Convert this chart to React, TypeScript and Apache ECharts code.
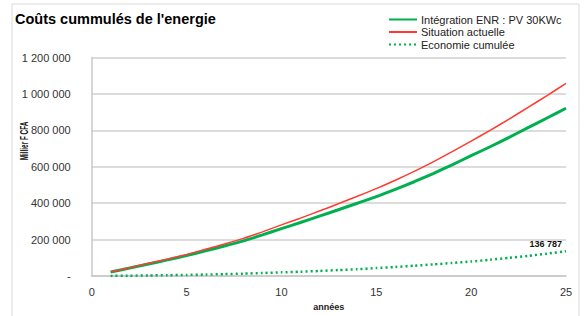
import React, { useEffect, useRef } from "react";
import * as echarts from "echarts";

const years = [1, 2, 3, 4, 5, 6, 7, 8, 9, 10, 11, 12, 13, 14, 15, 16, 17, 18, 19, 20, 21, 22, 23, 24, 25];
const integrationENR = [
  22000, 44000, 66500, 89000, 112500, 138500, 165000, 193500, 226000, 260500,
  294000, 329000, 364000, 400000, 436000, 476000, 518000, 563000, 611000, 661000,
  710000, 762000, 815000, 868000, 921213,
];
const situationActuelle = [
  23000, 46000, 70000, 94000, 119000, 147000, 176000, 207000, 243000, 281000,
  318000, 357000, 397000, 438000, 480000, 526000, 575000, 627000, 683000, 741000,
  800000, 862000, 926000, 991000, 1058000,
];
const economieCumulee = [
  1000, 2000, 3500, 5000, 6500, 8500, 11000, 13500, 17000, 20500,
  24000, 28000, 33000, 38000, 44000, 50000, 57000, 64000, 72000, 80000,
  90000, 100000, 111000, 123000, 136787,
];
const yTickLabels = ["-", "200 000", "400 000", "600 000", "800 000", "1 000 000", "1 200 000"];
const seriesNames = ["Intégration ENR : PV 30KWc", "Situation actuelle", "Economie cumulée"];

const fmt = (v: number) => String(Math.round(v)).replace(/\B(?=(\d{3})+(?!\d))/g, " ");
const FONT = "'Liberation Sans', Arial, sans-serif";

export default function App() {
  const ref = useRef<HTMLDivElement>(null);
  useEffect(() => {
    if (!ref.current) return;
    const chart = echarts.init(ref.current, undefined, { renderer: "svg" });
    const last = years.length - 1;
    chart.setOption({
      animation: false,
      textStyle: { fontFamily: FONT },
      title: {
        text: "Coûts cummulés de l'energie",
        left: 15,
        top: 11,
        padding: 0,
        textStyle: { fontSize: 14.5, fontWeight: "bold", color: "#000", fontFamily: FONT },
      },
      legend: {
        orient: "vertical",
        left: 388,
        top: 14,
        padding: 0,
        itemWidth: 28,
        itemHeight: 12,
        itemGap: 1.5,
        itemStyle: { opacity: 0 },
        textStyle: { fontSize: 11, color: "#222", fontFamily: FONT, padding: [0, 0, 0, -1] },
        data: seriesNames,
      },
      grid: { left: 91.7, right: 18, top: 57.5, bottom: 37.5 },
      xAxis: {
        type: "value",
        min: 0,
        max: 25,
        interval: 5,
        name: "années",
        nameLocation: "middle",
        nameGap: 24,
        nameTextStyle: { fontSize: 9, fontWeight: "bold", color: "#222" },
        axisLine: { show: true, lineStyle: { color: "#c8c8c8", width: 1.5 } },
        axisTick: { show: false },
        splitLine: { show: false },
        axisLabel: { fontSize: 11, color: "#333", margin: 10 },
      },
      yAxis: {
        type: "value",
        min: 0,
        max: 1200000,
        interval: 200000,
        axisLine: { show: true, lineStyle: { color: "#c8c8c8", width: 1.5 } },
        axisTick: { show: false },
        splitLine: { show: true, lineStyle: { color: "#d0d0d0", width: 1.5 } },
        axisLabel: {
          fontSize: 11,
          color: "#333",
          margin: 21,
          formatter: (v: number) => yTickLabels[Math.round(v / 200000)],
        },
      },
      graphic: [
        {
          type: "rect",
          shape: { x: 12, y: 4, width: 567, height: 400 },
          style: { fill: "none", stroke: "#d9d9d9", lineWidth: 1 },
          silent: true,
        },
        {
          type: "text",
          x: 24,
          y: 141,
          rotation: Math.PI / 2,
          scaleX: 0.64,
          style: {
            text: "Millier F CFA",
            font: `bold 10px ${FONT}`,
            fill: "#111",
            textAlign: "center",
            textVerticalAlign: "middle",
          },
        },
      ],
      series: [
        {
          name: seriesNames[0],
          type: "line",
          symbol: "none",
          smooth: 0.2,
          lineStyle: { color: "#00b050", width: 3 },
          itemStyle: { color: "#00b050" },
          data: years.map((y, i) => [y, integrationENR[i]]),
        },
        {
          name: seriesNames[1],
          type: "line",
          symbol: "none",
          smooth: 0.2,
          lineStyle: { color: "#ff3b2f", width: 1.5 },
          itemStyle: { color: "#ff3b2f" },
          data: years.map((y, i) => [y, situationActuelle[i]]),
        },
        {
          name: seriesNames[2],
          type: "line",
          symbol: "circle",
          symbolSize: 0.01,
          showSymbol: true,
          smooth: 0.2,
          lineStyle: { color: "#00b050", width: 2.5, type: [2, 3] },
          itemStyle: { color: "#00b050" },
          data: years.map((y, i) =>
            i === last
              ? {
                  value: [y, economieCumulee[i]],
                  label: {
                    show: true,
                    position: "left",
                    distance: 4,
                    offset: [0, -7],
                    fontSize: 9,
                    fontWeight: "bold",
                    color: "#111",
                    formatter: (p: any) => fmt(p.value[1]),
                  },
                }
              : [y, economieCumulee[i]]
          ),
        },
      ],
    });
    return () => chart.dispose();
  }, []);
  return (
    <div
      ref={ref}
      style={{ position: "fixed", left: 0, top: 0, width: 584, height: 316, background: "#fff" }}
    />
  );
}
